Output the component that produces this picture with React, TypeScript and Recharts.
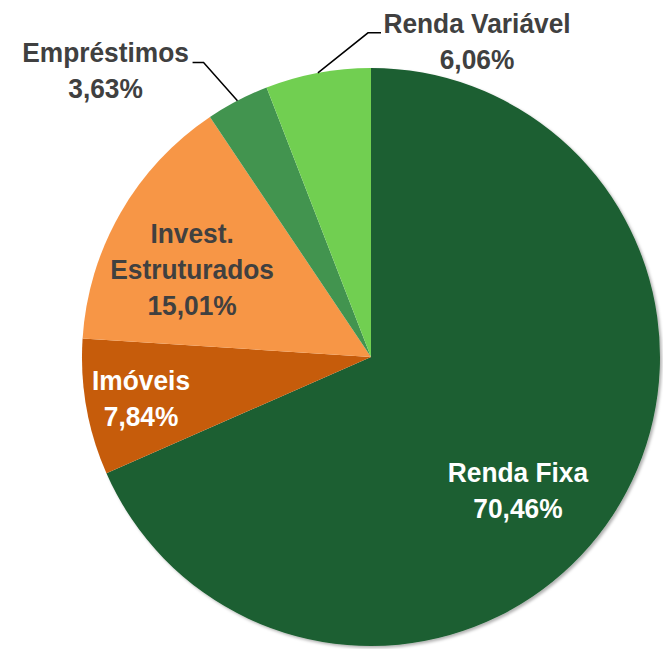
import { PieChart, Pie, Cell } from "recharts";

const categories = ["Renda Fixa", "Imóveis", "Invest.\nEstruturados", "Empréstimos", "Renda Variável"];
const values = [70.46, 7.84, 15.01, 3.63, 6.06];
const colors = ["#1b5e30", "#c65c0b", "#f79646", "#42944f", "#71cf51"];
const textColors = ["#ffffff", "#ffffff", "#404040", "#404040", "#404040"];

// where each label sits: radius factor and angle shift from the slice middle
const labelLayout = [
  { k: 0.667, dA: -7.2, line: null },
  { k: 0.804, dA: -1.8, line: null },
  { k: 0.734, dA: -2.6, line: null },
  { k: 1.372, dA: 14.5, line: [98, 87] },
  { k: 1.18, dA: -28.7, line: [-109, -96] },
];

const data = categories.map((name, i) => ({ name, value: values[i] }));

const RAD = Math.PI / 180;
const LINE_H = 36;
const fmt = (v: number) => v.toFixed(2).replace(".", ",") + "%";

const renderLabel = (props: any) => {
  const { cx, cy, midAngle, outerRadius, index } = props;
  const lay = labelLayout[index];
  const a = -(midAngle + lay.dA) * RAD;
  const x = cx + outerRadius * lay.k * Math.cos(a);
  const y = cy + outerRadius * lay.k * Math.sin(a);
  const lines = [...categories[index].split("\n"), fmt(values[index])];
  let leader = null;
  if (lay.line) {
    const m = -midAngle * RAD;
    const ex = cx + outerRadius * Math.cos(m);
    const ey = cy + outerRadius * Math.sin(m);
    leader = (
      <polyline
        points={`${ex},${ey} ${x + lay.line[0]},${y} ${x + lay.line[1]},${y}`}
        fill="none"
        stroke="#000"
        strokeWidth={1.5}
      />
    );
  }
  return (
    <g key={`lbl-${index}`}>
      {leader}
      <text
        transform={`translate(${x} ${y}) scale(0.94 1)`}
        textAnchor="middle"
        fill={textColors[index]}
        fontFamily="'Liberation Sans', Arial, sans-serif"
        fontWeight="bold"
        fontSize={28}
      >
        {lines.map((t, j) => (
          <tspan key={j} x={0} y={j * LINE_H}>
            {t}
          </tspan>
        ))}
      </text>
    </g>
  );
};

export default function App() {
  return (
    <div style={{ position: "absolute", left: 0, top: 0 }}>
      <PieChart width={663} height={649} margin={{ top: 0, right: 0, bottom: 0, left: 0 }}>
        <defs>
          <filter id="pieShadow" x="-10%" y="-10%" width="120%" height="120%">
            <feDropShadow dx="2" dy="2" stdDeviation="1.5" floodColor="#000" floodOpacity="0.3" />
          </filter>
        </defs>
        <Pie
          data={data}
          dataKey="value"
          nameKey="name"
          cx={371}
          cy={357}
          outerRadius={289}
          startAngle={90}
          endAngle={-270}
          stroke="none"
          label={renderLabel}
          labelLine={false}
          isAnimationActive={false}
        >
          {data.map((d, i) => (
            <Cell key={d.name} fill={colors[i]} filter={i === 0 ? "url(#pieShadow)" : undefined} />
          ))}
        </Pie>
      </PieChart>
    </div>
  );
}
